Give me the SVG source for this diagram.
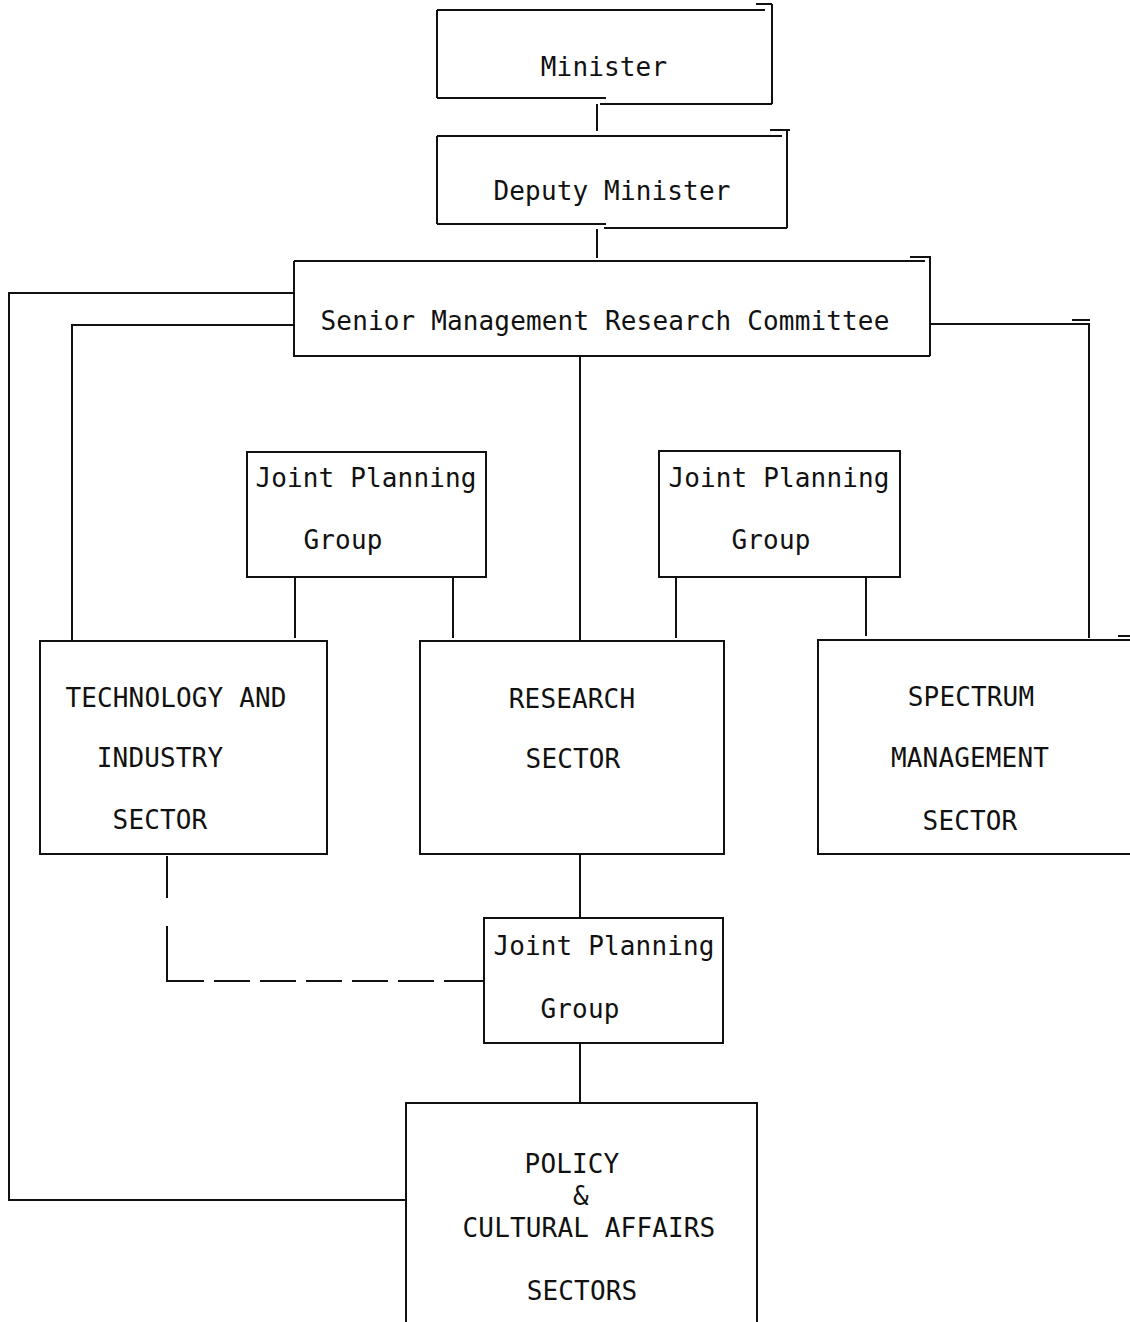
<svg xmlns="http://www.w3.org/2000/svg" width="1130" height="1322" viewBox="0 0 1130 1322">
  <style>
    .box { fill: none; stroke: #111; stroke-width: 2; }
    .wire { fill: none; stroke: #111; stroke-width: 2; }
    .dash { fill: none; stroke: #111; stroke-width: 2; stroke-dasharray: 42 28 92 10 36 10 36 10 36 10 36 10 36 10 40 10; }
    text { font-family: "DejaVu Sans Mono", "Liberation Mono", monospace; font-size: 26px; fill: #111; text-anchor: middle; letter-spacing: 0.15px; }
  </style>
  <rect width="1130" height="1322" fill="#fff"/>

  <!-- connectors -->
  <g id="connectors">
    <path class="wire" d="M597,104 V131"/>
    <path class="wire" d="M597,229 V258"/>
    <path class="wire" d="M294,293 H9 V1200 H405"/>
    <path class="wire" d="M294,325 H72 V641"/>
    <path class="wire" d="M930,324 H1089 V638"/>
    <path class="wire" d="M1072,320 H1090"/>
    <path class="wire" d="M580,356 V641"/>
    <path class="wire" d="M295,577 V638"/>
    <path class="wire" d="M453,577 V638"/>
    <path class="wire" d="M676,577 V638"/>
    <path class="wire" d="M866,577 V636"/>
    <path class="wire" d="M580,854 V918"/>
    <path class="wire" d="M580,1043 V1103"/>
    <path class="dash" d="M167,856 V981 H484"/>
  </g>

  <g id="minister">
    <path class="box" d="M437,10 H765 M756,4 H772 M772,4 V104 M437,10 V98 M437,98 H606 M600,104 H772"/>
    <text x="604" y="76">Minister</text>
  </g>

  <g id="deputy-minister">
    <path class="box" d="M437,136 H782 M770,130 H790 M787,130 V228 M437,136 V224 M437,224 H606 M604,228 H787"/>
    <text x="612" y="200">Deputy Minister</text>
  </g>

  <g id="senior-management">
    <path class="box" d="M294,261 H925 M910,257 H931 M930,257 V356 M294,261 V356 H930"/>
    <text x="605" y="330">Senior Management Research Committee</text>
  </g>

  <g id="jpg-left">
    <rect class="box" x="247" y="452" width="239" height="125"/>
    <text x="366" y="487">Joint Planning</text>
    <text x="343" y="549">Group</text>
  </g>

  <g id="jpg-right">
    <rect class="box" x="659" y="451" width="241" height="126"/>
    <text x="779" y="487">Joint Planning</text>
    <text x="771" y="549">Group</text>
  </g>

  <g id="technology-industry">
    <rect class="box" x="40" y="641" width="287" height="213"/>
    <text x="176" y="707">TECHNOLOGY AND</text>
    <text x="160" y="767">INDUSTRY</text>
    <text x="160" y="829">SECTOR</text>
  </g>

  <g id="research">
    <rect class="box" x="420" y="641" width="304" height="213"/>
    <text x="572" y="708">RESEARCH</text>
    <text x="573" y="768">SECTOR</text>
  </g>

  <g id="spectrum-management">
    <path class="box" d="M1131,640 H818 V854 H1131 M1118,636 H1131"/>
    <text x="971" y="706">SPECTRUM</text>
    <text x="970" y="767">MANAGEMENT</text>
    <text x="970" y="830">SECTOR</text>
  </g>

  <g id="jpg-bottom">
    <rect class="box" x="484" y="918" width="239" height="125"/>
    <text x="604" y="955">Joint Planning</text>
    <text x="580" y="1018">Group</text>
  </g>

  <g id="policy-cultural">
    <path class="box" d="M406,1323 V1103 H757 V1323"/>
    <text x="572" y="1173">POLICY</text>
    <text x="581" y="1205">&amp;</text>
    <text x="589" y="1237">CULTURAL AFFAIRS</text>
    <text x="582" y="1300">SECTORS</text>
  </g>
</svg>
